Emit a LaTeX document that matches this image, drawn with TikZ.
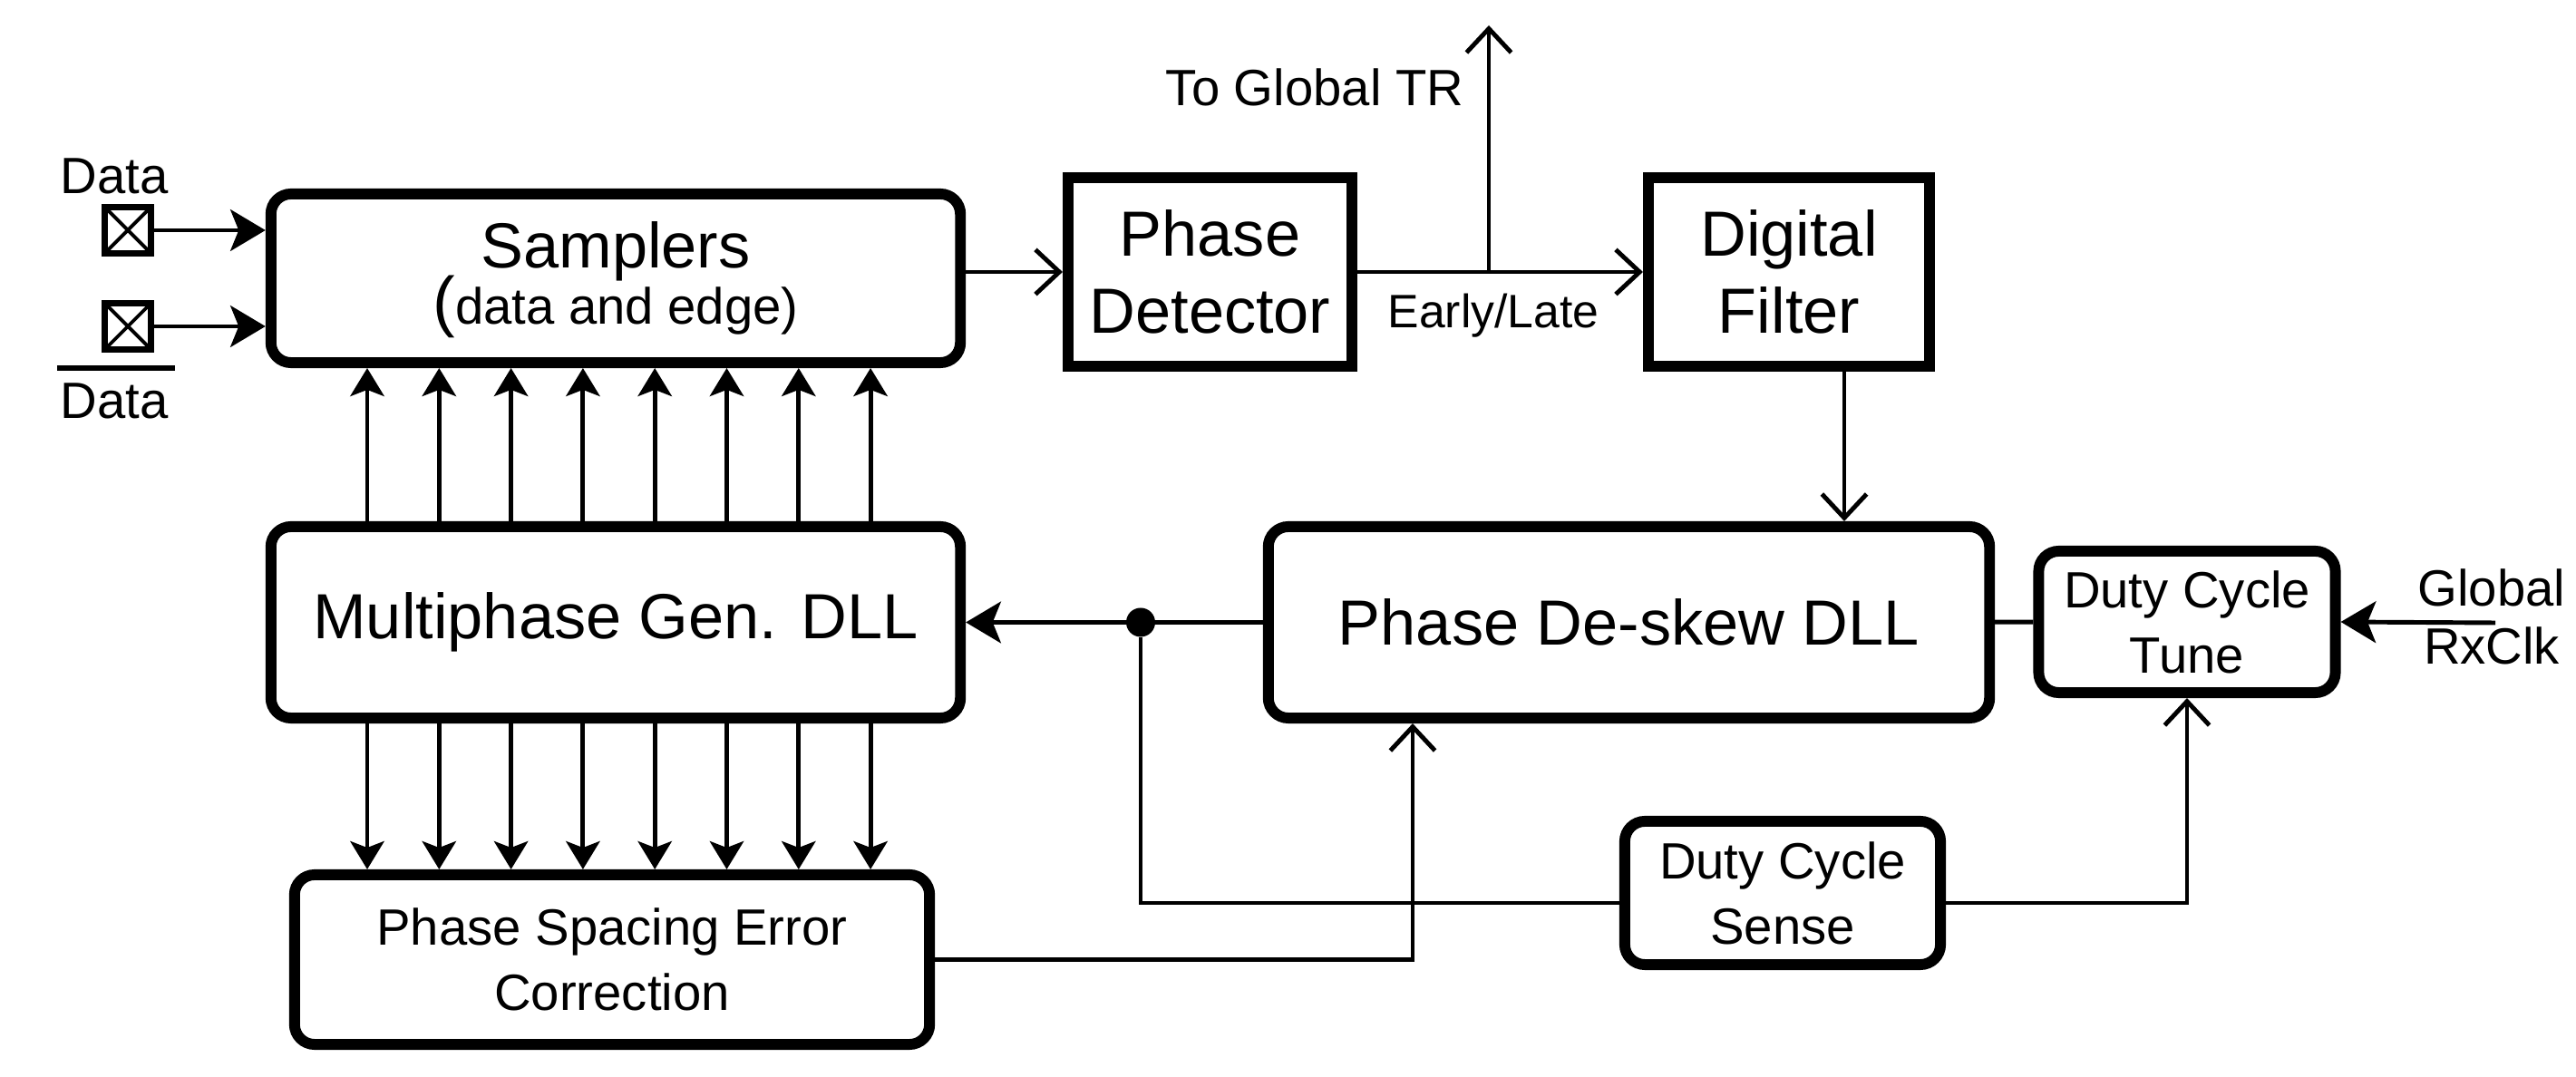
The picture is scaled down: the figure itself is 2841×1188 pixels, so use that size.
\documentclass[tikz,border=0pt]{standalone}
\usepackage{fontspec}
\setmainfont{Liberation Sans}
\usetikzlibrary{positioning, arrows.meta}
\newcommand\blkfont{\fontsize{20}{24}\selectfont}
\newcommand\lblfont{\fontsize{16}{20.5}\selectfont}

\begin{document}
\begin{tikzpicture}[x=0.01cm, y=0.01cm]
        \tikzstyle{block} = [rectangle, draw, line width=3.4pt, rounded corners=6.3pt, align=center, inner sep=0pt, font=\blkfont]
        \tikzstyle{sqblock} = [block, sharp corners]
        \tikzstyle{smallblock} = [block, font=\lblfont]
        \tikzstyle{pad} = [rectangle, draw, line width=2pt, minimum size=0.51cm, inner sep=0pt,
            path picture={\draw [line width=1.1pt] (path picture bounding box.north west) -- (path picture bounding box.south east)
                                                   (path picture bounding box.north east) -- (path picture bounding box.south west);}]
        \tikzstyle{lbl} = [inner sep=0pt, font=\lblfont, align=center]
        \tikzstyle{wire} = [line width=1.4pt]
        \tikzstyle{line} = [wire, -{Straight Barb[length=7.5pt, width=14pt]}]
        \tikzstyle{fat} = [wire, -{Stealth[length=11pt, width=13pt, inset=2.6pt]}]
        \tikzstyle{bus} = [wire, -{Stealth[length=8.8pt, width=10.6pt, inset=2pt]}]
        \useasboundingbox (0,0) rectangle (2841,1188);

        % blocks
        \node (smp) [block, minimum width=7.6cm, minimum height=1.86cm] at (679,881) {Samplers\\[-6.3pt]{\lblfont\smash{\fontsize{21}{21}\selectfont(}data and edge)}};
        \node (pd) [sqblock, minimum width=3.13cm, minimum height=2.08cm] at (1334.5,888) {Phase\\Detector};
        \node (df) [sqblock, minimum width=3.1cm, minimum height=2.08cm] at (1973,888) {Digital\\Filter};
        \node (mpg) [block, minimum width=7.6cm, minimum height=2.11cm] at (679,501.5) {Multiphase Gen. DLL};
        \node (dsk) [block, minimum width=7.95cm, minimum height=2.11cm] at (1796.5,501.5) {Phase De-skew DLL};
        \node (dct) [smallblock, minimum width=3.27cm, minimum height=1.56cm] at (2412,502) {Duty Cycle\\Tune};
        \node (dcs) [smallblock, minimum width=3.48cm, minimum height=1.58cm] at (1966,203) {Duty Cycle\\Sense};
        \node (psec) [smallblock, minimum width=7cm, minimum height=1.87cm] at (675,129.5) {Phase Spacing Error\\Correction};

        % pads and labels
        \node (pdat) [pad] at (141,934) {};
        \node (pdatb) [pad] at (141,828) {};
        \node (ldat) [lbl, anchor=base] at (126,974) {Data};
        \node (ldatb) [lbl, anchor=base] at (126,726) {Data};
        \draw [line width=1.7pt] ([xshift=-0.03cm, yshift=0.17cm]ldatb.north west) -- ([xshift=0.07cm, yshift=0.17cm]ldatb.north east);
        \node (ltr) [lbl, anchor=base east] at (1615,1071) {To Global TR};
        \node (lel) [lbl, anchor=base, font=\fontsize{14.7}{18}\selectfont] at (1647,826) {Early/Late};
        \node (lclk) [lbl, font=\fontsize{16}{18.2}\selectfont] at (2748,508) {Global\\RxClk};
        \node (tap) [circle, fill, inner sep=0pt, minimum size=0.32cm] at (1258,501.5) {};

        \coordinate (trtop) at (1642,1160);
        \coordinate (dfout) at (2034,0);
        \coordinate (dskin) at (1558,0);
        \coordinate (clkin) at (2752,501);

        \draw [fat] (pdat.east) -- (pdat -| smp.west);
        \draw [fat] (pdatb.east) -- (pdatb -| smp.west);
        \draw [line] (smp.east |- pd) -- (pd.west);
        \draw [line] (pd) -- (df);
        \draw [line] (pd.east -| trtop) -- (trtop);
        \draw [line] (df.south -| dfout) -- (dsk.north -| dfout);
        \draw [fat] (dsk) -- (mpg);
        \draw [wire] (dsk) -- (dct);
        \draw [fat] (clkin) -- (dct.east);
        \draw [wire] (tap) |- ([yshift=-1.1mm]dcs.west);
        \draw [line] ([yshift=-1.1mm]dcs.east) -| (dct.south);
        \draw [line] (psec.east) -| (dsk.south -| dskin);
        \foreach \i in {0,...,7} {
            \coordinate (b\i) at ({405+79.3*\i},0);
            \draw [bus] (mpg.north -| b\i) -- (smp.south -| b\i);
            \draw [bus] (mpg.south -| b\i) -- (psec.north -| b\i);
        }
\end{tikzpicture}
\end{document}
